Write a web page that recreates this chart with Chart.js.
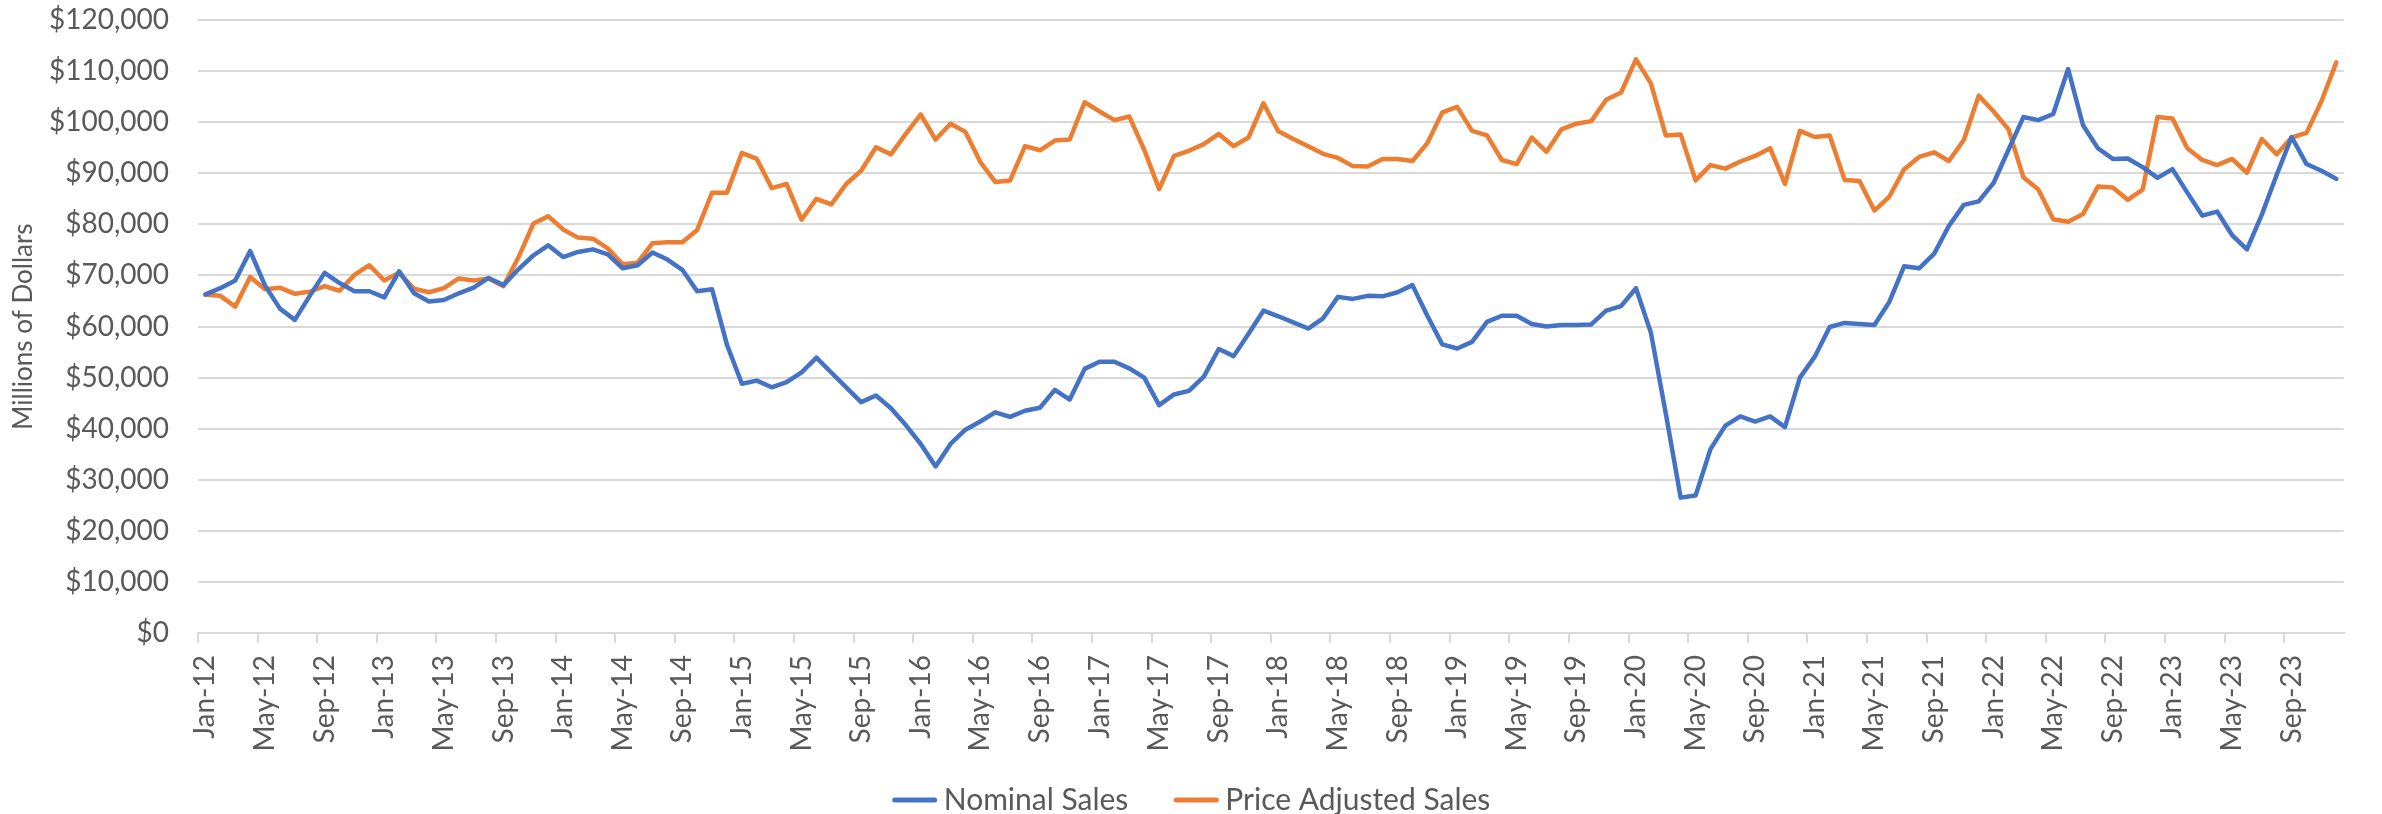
<!DOCTYPE html>
<html>
<head>
<meta charset="utf-8">
<title>Nominal vs Price Adjusted Sales</title>
<script src="https://cdn.jsdelivr.net/npm/chart.js@4.4.1/dist/chart.umd.min.js"></script>
<style>
  html, body { margin: 0; padding: 0; background: #ffffff; }
  #chartWrap { width: 2382px; height: 814px; position: relative; }
</style>
</head>
<body>
<div id="chartWrap"><canvas id="salesChart"></canvas></div>
<script>
// month labels Jan-12 .. Dec-23
const monthNames = ['Jan', 'Feb', 'Mar', 'Apr', 'May', 'Jun', 'Jul', 'Aug', 'Sep', 'Oct', 'Nov', 'Dec'];
const years = ['12', '13', '14', '15', '16', '17', '18', '19', '20', '21', '22', '23'];

const nominalSales = [
    66300, 67500, 69000, 74800, 68000, 63500, 61300, 66000, 70500, 68500, 66900, 66900,
    65700, 70800, 66500, 64900, 65200, 66500, 67600, 69500, 68100, 71200, 73900, 75900,
    73600, 74600, 75100, 74100, 71400, 72000, 74500, 73100, 71100, 66900, 67300, 56400,
    48800, 49400, 48100, 49100, 51000, 53900, 51000, 48100, 45200, 46500, 44000, 40700,
    37000, 32600, 37000, 39800, 41400, 43200, 42300, 43500, 44100, 47600, 45700, 51700,
    53100, 53100, 51800, 50000, 44600, 46700, 47400, 50200, 55600, 54200, 58600, 63100,
    62000, 60800, 59600, 61600, 65800, 65400, 66000, 65900, 66700, 68100, 62100, 56500,
    55700, 57000, 60900, 62100, 62100, 60500, 60000, 60300, 60300, 60400, 63100, 64000,
    67500, 58800, 43000, 26500, 26900, 36000, 40600, 42400, 41400, 42400, 40300, 50000,
    54100, 59900, 60700, 60500, 60300, 64800, 71800, 71400, 74200, 79700, 83800, 84500,
    88100, 94600, 101000, 100400, 101600, 110400, 99400, 94900, 92800, 92900, 91200, 89100,
    90800, 86200, 81700, 82500, 77900, 75100, 81900, 89700, 97100, 91800, 90500, 88900
];

const priceAdjustedSales = [
    66200, 66000, 63900, 69700, 67300, 67600, 66400, 66800, 67900, 67000, 70100, 72000,
    69000, 70500, 67400, 66700, 67500, 69400, 69000, 69400, 67900, 73500, 80100, 81600,
    79000, 77400, 77200, 75300, 72200, 72500, 76300, 76500, 76500, 78900, 86200, 86200,
    94000, 92800, 87100, 87900, 80900, 85000, 83900, 87900, 90500, 95100, 93700, 97700,
    101500, 96600, 99700, 98100, 92200, 88300, 88600, 95300, 94500, 96400, 96600, 103900,
    102100, 100400, 101100, 94600, 86900, 93400, 94400, 95700, 97700, 95300, 97000, 103700,
    98200, 96700, 95300, 93800, 93000, 91400, 91300, 92800, 92800, 92400, 95900, 101900,
    103000, 98300, 97400, 92600, 91800, 97000, 94200, 98600, 99700, 100200, 104400, 105800,
    112300, 107600, 97400, 97600, 88600, 91600, 90900, 92300, 93400, 94900, 87900, 98300,
    97100, 97400, 88700, 88500, 82700, 85400, 90800, 93200, 94100, 92400, 96500, 105200,
    102100, 98600, 89200, 86800, 81000, 80500, 82000, 87400, 87200, 84800, 86800, 101000,
    100700, 94900, 92600, 91600, 92800, 90100, 96700, 93700, 97000, 97900, 104100, 111700
];

const yTicks = { min: 0, max: 120000, step: 10000 };

document.addEventListener('DOMContentLoaded', function() {
    const labels = [];
    years.forEach(y => monthNames.forEach(m => labels.push(m + '-' + y)));

    const textColor = '#595959';
    const gridColor = '#d9d9d9';

    // legend drawn under the axis labels, centred on the canvas
    const bottomLegend = {
        id: 'bottomLegend',
        afterDraw(chart) {
            const ctx = chart.ctx;
            const markerLen = 46, gap = 6, itemGap = 45, y = 800;
            ctx.save();
            ctx.font = '30px Lato';
            ctx.textBaseline = 'middle';
            const widths = chart.data.datasets.map(ds => ctx.measureText(ds.label).width);
            let total = 0;
            widths.forEach((w, i) => { total += markerLen + gap + w + (i > 0 ? itemGap : 0); });
            let x = (chart.width - total) / 2;
            chart.data.datasets.forEach((ds, i) => {
                ctx.strokeStyle = ds.borderColor;
                ctx.lineWidth = 5;
                ctx.lineCap = 'round';
                ctx.beginPath();
                ctx.moveTo(x + 3, y);
                ctx.lineTo(x + markerLen - 3, y);
                ctx.stroke();
                ctx.fillStyle = textColor;
                ctx.fillText(ds.label, x + markerLen + gap, y);
                x += markerLen + gap + widths[i] + itemGap;
            });
            ctx.restore();
        }
    };

    const ctx = document.getElementById('salesChart').getContext('2d');
    new Chart(ctx, {
        type: 'line',
        data: {
            labels: labels,
            datasets: [{
                label: 'Nominal Sales',
                data: nominalSales,
                borderColor: '#4472C4',
                backgroundColor: '#4472C4',
                borderWidth: 4.5,
                pointRadius: 0,
                tension: 0,
                borderJoinStyle: 'round',
                borderCapStyle: 'round',
                fill: false
            }, {
                label: 'Price Adjusted Sales',
                data: priceAdjustedSales,
                borderColor: '#ED7D31',
                backgroundColor: '#ED7D31',
                borderWidth: 4.5,
                pointRadius: 0,
                tension: 0,
                borderJoinStyle: 'round',
                borderCapStyle: 'round',
                fill: false
            }]
        },
        options: {
            responsive: true,
            maintainAspectRatio: false,
            devicePixelRatio: 1,
            animation: false,
            layout: {
                padding: { top: 20, right: 18, bottom: 0, left: 0 }
            },
            plugins: {
                legend: { display: false },
                tooltip: { enabled: false }
            },
            scales: {
                x: {
                    type: 'category',
                    offset: true,
                    grid: {
                        offset: true,
                        drawOnChartArea: false,
                        drawTicks: true,
                        tickLength: 10,
                        lineWidth: 2,
                        color: c => (c.index % 4 === 0 ? gridColor : 'rgba(0,0,0,0)')
                    },
                    border: { display: true, color: gridColor, width: 2 },
                    ticks: {
                        autoSkip: false,
                        maxRotation: 90,
                        minRotation: 90,
                        padding: 12,
                        color: textColor,
                        font: { family: 'Lato', size: 28 },
                        callback: function(value, index) {
                            return index % 4 === 0 ? this.getLabelForValue(value) : '';
                        }
                    },
                    afterFit: axis => { axis.height = 181; }
                },
                y: {
                    min: yTicks.min,
                    max: yTicks.max,
                    grid: {
                        color: gridColor,
                        lineWidth: 2,
                        drawTicks: true,
                        tickLength: 26,
                        tickColor: 'rgba(0,0,0,0)'
                    },
                    border: { display: false },
                    ticks: {
                        stepSize: yTicks.step,
                        padding: 3,
                        color: textColor,
                        font: { family: 'Lato', size: 28 },
                        callback: value => '$' + value.toLocaleString('en-US')
                    },
                    title: {
                        display: true,
                        text: 'Millions of Dollars',
                        color: textColor,
                        font: { family: 'Lato', size: 26 },
                        padding: { top: 8, bottom: 0 }
                    },
                    afterFit: axis => { axis.width = 198; }
                }
            }
        },
        plugins: [bottomLegend]
    });
});
</script>
</body>
</html>
